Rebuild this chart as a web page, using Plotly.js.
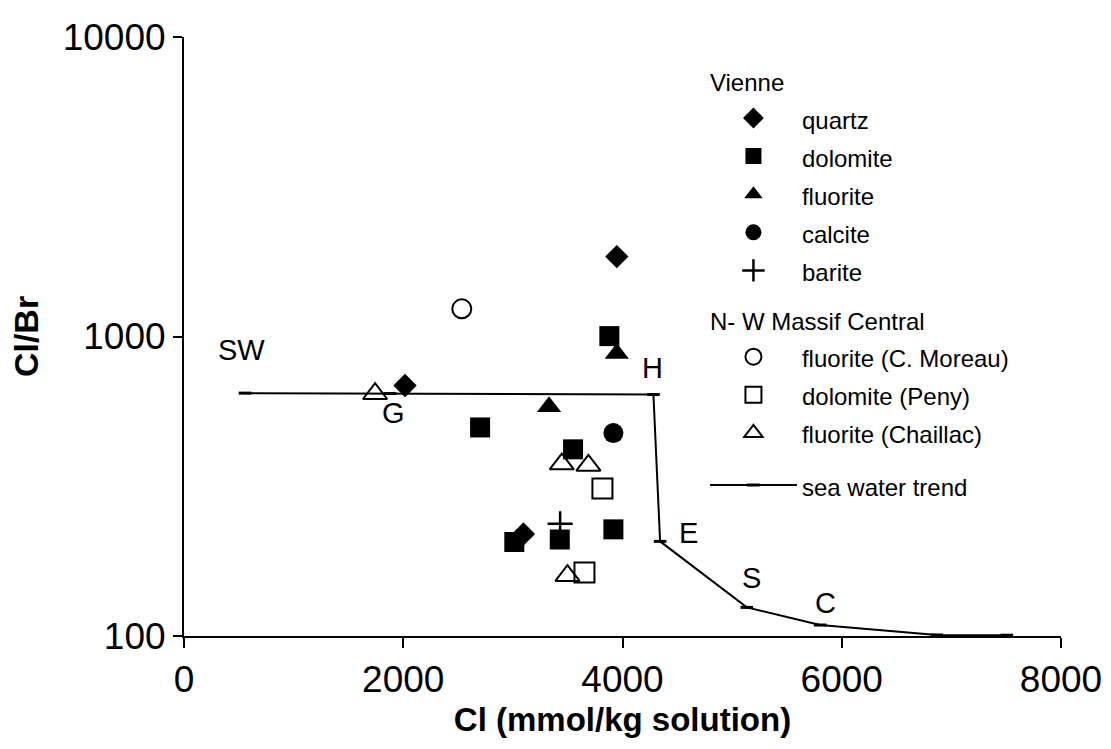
<!DOCTYPE html>
<html>
<head>
<meta charset="utf-8">
<script src="https://cdn.plot.ly/plotly-3.0.1.min.js"></script>
<style>html,body{margin:0;padding:0;background:#fff;}#chart{width:1111px;height:749px;}</style>
</head>
<body>
<div id="chart"></div>
<script>
// Vienne
const quartzX = [2016, 3948, 3096];
const quartzY = [686, 1848, 219];
const dolomiteX = [3880, 2701, 3549, 3013, 3428, 3917];
const dolomiteY = [1003, 497, 420, 206, 210, 227];
const fluoriteX = [3948, 3330];
const fluoriteY = [878, 583];
const calciteX = [3917];
const calciteY = [476];
const bariteX = [3431];
const bariteY = [237];
// N-W Massif Central
const moreauX = [2534];
const moreauY = [1237];
const penyX = [3817, 3653];
const penyY = [311, 163];
const chaillacX = [1743, 3446, 3689, 3498];
const chaillacY = [644, 375, 371, 159];
// sea water trend
const seaX = [557, 1880, 4282, 4343, 5134, 5803, 6868, 7506];
const seaY = [647, 645, 640, 207, 124.6, 108.8, 100.8, 100.6];
// labels on trend
const labelText = ['SW', 'G', 'H', 'E', 'S', 'C'];
const labelX = [526, 1907, 4273, 4601, 5180, 5849];
const labelY = [898, 554, 786, 220, 155.7, 128.5];
// ticks
const xTicks = [0, 2000, 4000, 6000, 8000];
const yTicks = [100, 1000, 10000];
const yTickText = ['100', '1000', '10000'];

const FONT = 'Liberation Sans, Arial, sans-serif';
const nm = s => '<span style="font-size:24px">' + s + '</span>';

function pts(x, y, name, group, gtitle, symbol, size, lw) {
  const t = {
    type: 'scatter', mode: 'markers', x: x, y: y, name: nm(name),
    legendgroup: group,
    marker: {symbol: symbol, size: size, color: '#000', line: {color: '#000', width: lw}}
  };
  if (gtitle) t.legendgrouptitle = {text: gtitle, font: {size: 24, color: '#000', family: FONT}};
  return t;
}

const traces = [
  pts(quartzX, quartzY, 'quartz', 'v', 'Vienne', 'diamond', 18, 0),
  pts(dolomiteX, dolomiteY, 'dolomite', 'v', null, 'square', 20, 0),
  pts(fluoriteX, fluoriteY, 'fluorite', 'v', null, 'triangle-up', 21, 0),
  pts(calciteX, calciteY, 'calcite', 'v', null, 'circle', 20, 0),
  pts(bariteX, bariteY, 'barite', 'v', null, 'cross-thin', 18, 2.5),
  pts(moreauX, moreauY, 'fluorite (C. Moreau)', 'nw', 'N- W Massif Central', 'circle-open', 19, 2),
  pts(penyX, penyY, 'dolomite (Peny)', 'nw', null, 'square-open', 20, 2),
  pts(chaillacX, chaillacY, 'fluorite (Chaillac)', 'nw', null, 'triangle-up-open', 21, 2),
  {
    type: 'scatter', mode: 'lines+markers', x: seaX, y: seaY, name: nm('sea water trend'),
    legendgroup: 'sw',
    line: {color: '#000', width: 2},
    marker: {symbol: 'line-ew', size: 9, color: '#000', line: {color: '#000', width: 3}}
  }
];

const annotations = labelText.map((t, i) => ({
  x: labelX[i], y: Math.log10(labelY[i]), xref: 'x', yref: 'y',
  text: t, showarrow: false, font: {size: 29, color: '#000', family: FONT},
  xanchor: 'center', yanchor: 'middle'
}));

const layout = {
  width: 1111, height: 749,
  margin: {l: 184, r: 50, t: 37, b: 113},
  paper_bgcolor: '#fff', plot_bgcolor: '#fff',
  font: {family: FONT, color: '#000'},
  showlegend: true,
  legend: {
    x: 0.594, y: 0.962, xanchor: 'left', yanchor: 'top',
    bgcolor: 'rgba(0,0,0,0)', borderwidth: 0,
    font: {size: 27, color: '#000', family: FONT},
    tracegroupgap: 14, itemwidth: 87, traceorder: 'grouped'
  },
  xaxis: {
    range: [0, 8000], tickvals: xTicks, ticktext: xTicks.map(String),
    showgrid: false, zeroline: false, showline: true, linecolor: '#000', linewidth: 2,
    ticks: 'outside', ticklen: 10, tickwidth: 2, tickcolor: '#000',
    tickfont: {size: 37, color: '#000', family: FONT},
    title: {text: '<b>Cl (mmol/kg solution)</b>', font: {size: 33, color: '#000', family: FONT}, standoff: 8}
  },
  yaxis: {
    type: 'log', range: [2, 4], tickvals: yTicks, ticktext: yTickText,
    showgrid: false, zeroline: false, showline: true, linecolor: '#000', linewidth: 2,
    ticks: 'outside', ticklen: 9, tickwidth: 2, tickcolor: '#000',
    tickfont: {size: 37, color: '#000', family: FONT},
    title: {text: '<b>Cl/Br</b>', font: {size: 34, color: '#000', family: FONT}, standoff: 14}
  },
  annotations: annotations
};

Plotly.newPlot('chart', traces, layout, {displayModeBar: false, staticPlot: true});
</script>
</body>
</html>
